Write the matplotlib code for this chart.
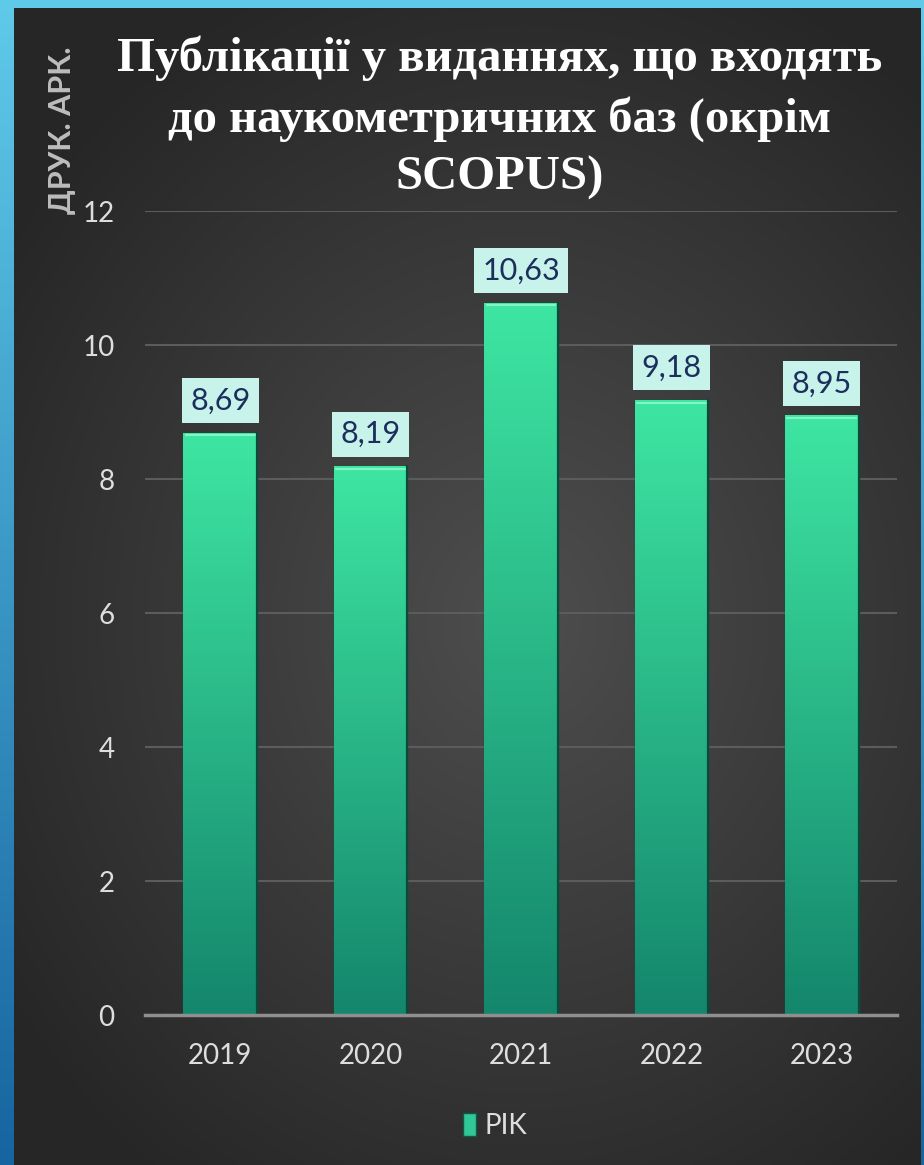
import numpy as np
import matplotlib
matplotlib.use("Agg")
import matplotlib.pyplot as plt
from matplotlib.patches import Rectangle

# ---- data ----
years = ["2019", "2020", "2021", "2022", "2023"]
values = [8.69, 8.19, 10.63, 9.18, 8.95]
value_labels = ["8,69", "8,19", "10,63", "9,18", "8,95"]
yticks = [0, 2, 4, 6, 8, 10, 12]
series_name = "PIK"
title = "Публікації у виданнях, що входять\nдо наукометричних баз (окрім\nSCOPUS)"
ylabel = "ДРУК. АРК."

W, H = 924, 1165
fig = plt.figure(figsize=(W / 100, H / 100), dpi=100)

# ---- background (decoration) ----
bg = fig.add_axes([0, 0, 1, 1], zorder=-10)
yy, xx = np.mgrid[0:H, 0:W]
t = yy / (H - 1)
top = np.array([95, 202, 234]) / 255
bot = np.array([22, 100, 160]) / 255
img = top[None, None, :] * (1 - t[..., None]) + bot[None, None, :] * t[..., None]
px0, px1, py0 = 14, 921, 8
cx, cy = 520, 620
r = np.sqrt(((xx - cx) / 620.0) ** 2 + ((yy - cy) / 700.0) ** 2)
r = np.clip(r, 0, 1)
inner = np.array([78, 78, 78]) / 255
outer = np.array([38, 38, 38]) / 255
panel = inner[None, None, :] * (1 - r[..., None]) + outer[None, None, :] * r[..., None]
mask = (xx >= px0) & (xx < px1) & (yy >= py0)
img[mask] = panel[mask]
bg.imshow(img, extent=[0, 1, 0, 1], aspect="auto", interpolation="bilinear")
bg.set_xlim(0, 1); bg.set_ylim(0, 1)
bg.axis("off")

# ---- main axes ----
ax = fig.add_axes([145 / W, 1 - 1015 / H, (897 - 145) / W, (1015 - 211) / H])
ax.patch.set_alpha(0)
x = np.arange(len(years))
bw = 0.49
bars = ax.bar(x, values, width=bw, color="#2fc896", edgecolor="#0e5a46",
              linewidth=1.0, zorder=3, label=series_name)

grad = np.linspace(0, 1, 256)[:, None]
c_top = np.array([62, 230, 162]) / 255
c_bot = np.array([20, 134, 108]) / 255
gimg = c_bot[None, None, :] * (1 - grad[..., None]) + c_top[None, None, :] * grad[..., None]
gimg = np.repeat(gimg, 8, axis=1)
for b in bars:
    x0, w, h = b.get_x(), b.get_width(), b.get_height()
    im = ax.imshow(gimg, extent=[x0, x0 + w, 0, h], origin="lower",
                   aspect="auto", zorder=3.5, interpolation="bilinear")
    im.set_clip_path(b)
    ax.plot([x0 + 0.01, x0 + w - 0.01], [h - 0.04, h - 0.04], color="#7ff5c8",
            lw=1.5, zorder=4, solid_capstyle="butt")
    ax.plot([x0 + w, x0 + w], [0, h], color="#0b4a3a", lw=1.6, zorder=4)

for xi, v, lab in zip(x, values, value_labels):
    ax.annotate(lab, (xi, v), xytext=(0, 13), textcoords="offset points",
                ha="center", va="bottom", fontsize=22, color="#1c2f5c",
                family=["Lato", "DejaVu Sans"], zorder=6,
                bbox=dict(boxstyle="square,pad=0.28", fc="#c8f3ea", ec="none"))

ax.set_xlim(-0.5, 4.5)
ax.set_ylim(0, 12)
ax.set_yticks(yticks)
ax.set_xticks(x)
ax.set_xticklabels(years)
ax.grid(axis="y", color="#5c5c5c", lw=1.5, zorder=0)
ax.set_axisbelow(True)
for s in ["top", "right", "left"]:
    ax.spines[s].set_visible(False)
ax.spines["bottom"].set_color("#8f8f8f")
ax.spines["bottom"].set_linewidth(2.5)
ax.spines["bottom"].set_zorder(5)
ax.tick_params(axis="both", length=0, labelsize=20, labelcolor="#dedede")
ax.tick_params(axis="y", pad=22)
ax.tick_params(axis="x", pad=20)
for lbl in ax.get_xticklabels() + ax.get_yticklabels():
    lbl.set_family(["Lato", "DejaVu Sans"])
    lbl.set_fontweight("normal")

fig.text(62 / W, 1 - 130 / H, ylabel, rotation=90, ha="center", va="center",
         fontsize=22, fontweight="bold", color="#bdbdbd",
         family=["Lato", "DejaVu Sans"])

fig.text(500 / W, 1 - 118 / H, title, ha="center", va="center",
         fontsize=35, fontweight="bold", color="white",
         family=["Liberation Serif", "DejaVu Serif"], linespacing=1.42)

leg = fig.legend(handles=[Rectangle((0, 0), 1, 1, fc="#2fc896", ec="#0e5a46")],
                 labels=[series_name], loc="center",
                 bbox_to_anchor=(495 / W, 1 - 1126 / H), frameon=False,
                 handlelength=0.5, handleheight=0.9, handletextpad=0.3,
                 prop={"family": ["Lato", "DejaVu Sans"], "size": 20})
for tx in leg.get_texts():
    tx.set_color("#dedede")

fig.savefig("out.png", dpi=100)
